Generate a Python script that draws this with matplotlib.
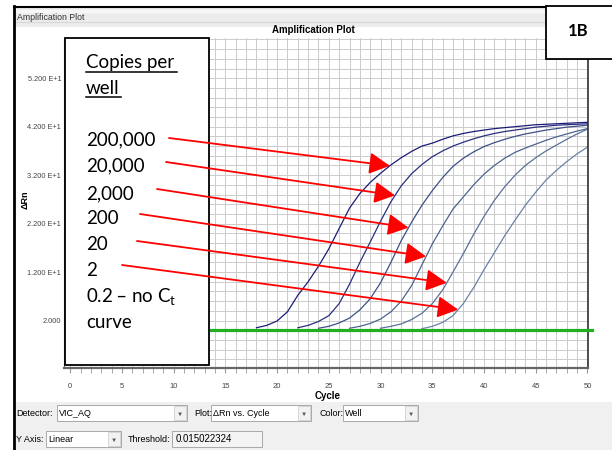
import matplotlib
matplotlib.use('Agg')
import matplotlib.pyplot as plt
from matplotlib.patches import Rectangle
from matplotlib.lines import Line2D
from matplotlib.ticker import MultipleLocator
import numpy as np

W, H = 612, 450

# copies per well and the amplification curves (delta Rn per cycle)
copies = ['200,000', '20,000', '2,000', '200', '20', '2']
start_cycle = [18, 22, 24, 27, 30, 34]
rn_200000 = [0.5, 1.0, 1.9, 3.8, 7.2, 10.0, 13.2, 16.8, 21.0, 25.2, 28.2, 30.5, 32.4,
             34.1, 35.6, 36.9, 38.0, 38.6, 39.4, 40.1, 40.6, 41.0, 41.3, 41.6, 41.8,
             42.0, 42.2, 42.4, 42.5, 42.6, 42.7, 42.8, 42.9]
rn_20000 = [0.5, 1.0, 1.8, 3.0, 5.5, 9.5, 14.0, 18.2, 22.5, 26.5, 29.8, 32.3, 34.2,
            35.8, 37.0, 38.0, 38.8, 39.5, 40.1, 40.6, 41.0, 41.3, 41.6, 41.9, 42.1,
            42.3, 42.4, 42.5, 42.6]
rn_2000 = [0.4, 0.8, 1.5, 2.5, 4.2, 6.5, 9.8, 14.0, 18.5, 22.3, 25.8, 28.8, 31.5,
           33.8, 35.5, 36.8, 37.9, 38.7, 39.4, 40.0, 40.5, 40.9, 41.3, 41.6, 41.9,
           42.1, 42.3]
rn_200 = [0.4, 0.8, 1.4, 2.3, 3.8, 6.0, 9.2, 13.5, 17.8, 21.5, 25.0, 27.5, 30.0,
          32.2, 34.0, 35.5, 36.7, 37.6, 38.4, 39.2, 39.9, 40.5, 41.1, 41.6]
rn_20 = [0.4, 0.8, 1.3, 2.2, 3.5, 5.5, 8.3, 12.0, 15.8, 19.8, 23.5, 26.8, 29.6,
         32.0, 34.0, 35.6, 37.0, 38.2, 39.4, 40.5, 41.5]
rn_2 = [0.3, 0.8, 1.6, 3.0, 5.5, 8.8, 12.5, 16.0, 19.5, 22.7, 25.8, 28.5, 31.0,
        33.0, 34.8, 36.4, 37.8]
curves = [rn_200000, rn_20000, rn_2000, rn_200, rn_20, rn_2]
curve_colors = ['#1c1c78', '#2a2f80', '#3d4f86', '#4d6390', '#5a7098', '#6a82a4']
threshold = 0.015022324

# cycle where each red arrow touches its curve
arrow_cycle = [30.9, 31.4, 32.7, 34.4, 36.4, 37.5]

yticks = [2, 12, 22, 32, 42, 52]
ytick_labels = ['2.000', '1.200 E+1', '2.200 E+1', '3.200 E+1', '4.200 E+1', '5.200 E+1']


def fx(x):
    return x / W


def fy(y):
    return 1 - y / H


def box(x0, y0, x1, y1, fc, ec='none', lw=0.8, z=1):
    fig.add_artist(Rectangle((fx(x0), fy(y1)), (x1 - x0) / W, (y1 - y0) / H,
                             transform=fig.transFigure, facecolor=fc,
                             edgecolor=ec, linewidth=lw, zorder=z))


def hline(x0, x1, y, color, lw, z=2):
    fig.add_artist(Line2D([fx(x0), fx(x1)], [fy(y), fy(y)], color=color, lw=lw,
                          transform=fig.transFigure, zorder=z))


ui = ['Liberation Sans', 'DejaVu Sans']

fig = plt.figure(figsize=(6.12, 4.5), dpi=100)
fig.patch.set_facecolor('white')

# window chrome
box(14, 6, 612, 27, '#ececec')
hline(14, 612, 11, '#f6f6f6', 2.5)
hline(14, 612, 22, '#d8d8d8', 0.8)
hline(14, 612, 6.5, 'black', 1.5, z=4)
fig.add_artist(Line2D([fx(14), fx(14)], [fy(6), fy(450)], color='black', lw=2,
                      transform=fig.transFigure, zorder=4))
fig.text(fx(17), fy(17), 'Amplification Plot', family=ui, fontsize=6.3,
         color='#333333', va='center')

# plot
ax = fig.add_axes([fx(64), fy(368), (588 - 64) / W, (368 - 38) / H])
for rn, c0, col in zip(curves, start_cycle, curve_colors):
    cyc = np.arange(c0, c0 + len(rn))
    ax.plot(cyc, rn, color=col, lw=0.9, zorder=2)
ax.plot([0, 50.4], [threshold, threshold], color='#22b022', lw=2.3, zorder=3,
        clip_on=False)

ax.set_xlim(-0.6, 50.05)
ax.set_ylim(-7.8, 60.3)
ax.xaxis.set_major_locator(MultipleLocator(5))
ax.xaxis.set_minor_locator(MultipleLocator(1))
ax.yaxis.set_minor_locator(MultipleLocator(2))
ax.set_yticks(yticks)
ax.set_yticklabels(ytick_labels)
ax.grid(which='both', color='#cccccc', lw=0.7)
ax.tick_params(axis='x', which='both', direction='out', length=3.5, color='#999999',
               labelsize=5.5, labelcolor='#444444', pad=7)
ax.tick_params(axis='y', which='both', length=0, labelsize=5.3,
               labelcolor='#444444', pad=2)
for lab in ax.get_xticklabels() + ax.get_yticklabels():
    lab.set_family(ui)
ax.spines['top'].set_visible(False)
ax.spines['left'].set_color('#777777')
ax.spines['left'].set_linewidth(0.8)
ax.spines['right'].set_color('#333333')
ax.spines['right'].set_linewidth(1.2)
ax.spines['bottom'].set_color('#666666')
ax.spines['bottom'].set_linewidth(1.6)

fig.text(fx(313), fy(33), 'Amplification Plot', family=ui, fontsize=7,
         fontweight='bold', ha='center', va='baseline')
fig.text(fx(328), fy(396), 'Cycle', family=ui, fontsize=7, fontweight='bold',
         ha='center', va='center')
fig.text(fx(25), fy(200), 'ΔRn', family=ui, fontsize=6.5, fontweight='bold',
         rotation=90, ha='center', va='center')

# legend box with labels
ax.add_patch(Rectangle((fx(65), fy(365)), (209 - 65) / W, (365 - 37.5) / H,
                       transform=fig.transFigure, facecolor='white',
                       edgecolor='black', lw=1.3, zorder=5, clip_on=False))
lab_font = ['Lato', 'DejaVu Sans']
fig.text(fx(86), fy(68.3), 'Copies per', family=lab_font, fontsize=13.5, va='baseline')
hline(86, 177, 72, 'black', 1.1, z=5)
fig.text(fx(86), fy(94.3), 'well', family=lab_font, fontsize=13.5, va='baseline')
hline(86, 121, 97, 'black', 1.1, z=5)
label_base = [145.3, 171.7, 199, 224, 250, 276]
for lab, yb in zip(copies, label_base):
    fig.text(fx(86), fy(yb), lab, family=lab_font, fontsize=13.5, va='baseline')
fig.text(fx(86), fy(302.7), '0.2 – no C$_\\mathregular{t}$', family=lab_font,
         fontsize=13.5, va='baseline')
fig.text(fx(86), fy(328.3), 'curve', family=lab_font, fontsize=13.5, va='baseline')

# red arrows from the labels to the curves
tails = [(169, 138), (166, 162), (157, 189), (140, 214), (137, 241), (122, 265)]
for rn, c0, ac, (tx, ty) in zip(curves, start_cycle, arrow_cycle, tails):
    cyc = np.arange(c0, c0 + len(rn))
    ax.annotate('', xy=(ac, np.interp(ac, cyc, rn)), xycoords='data',
                xytext=(fx(tx), fy(ty)), textcoords='figure fraction',
                arrowprops=dict(arrowstyle='-|>,head_length=1.05,head_width=0.55',
                                color='#ff0000', lw=1.3, mutation_scale=12,
                                shrinkA=0, shrinkB=0),
                annotation_clip=False, zorder=6)

# figure tag
box(546, 6, 613, 59, 'white', ec='black', lw=1.3, z=5)
fig.text(fx(578), fy(31), '1B', family=lab_font, fontsize=12, fontweight='bold',
         ha='center', va='center', zorder=6)

# bottom control panel
box(15, 402, 612, 450, '#f0f0f0')


def combo(x0, x1, yc, text):
    box(x0, yc - 8, x1, yc + 8, 'white', ec='#a8a8a8', lw=0.7, z=2)
    box(x1 - 13, yc - 7, x1 - 1, yc + 7, '#f2f2f2', ec='#c8c8c8', lw=0.5, z=3)
    fig.text(fx(x1 - 7), fy(yc + 1), '▼', family=ui, fontsize=4.5, color='#555555',
             ha='center', va='center', zorder=4)
    fig.text(fx(x0 + 2), fy(yc), text, family=ui, fontsize=6.5, va='center', zorder=4)


row1, row2 = 413, 439
fig.text(fx(16), fy(row1), 'Detector:', family=ui, fontsize=6.5, va='center')
combo(57, 187, row1, 'VIC_AQ')
fig.text(fx(194), fy(row1), 'Plot:', family=ui, fontsize=6.5, va='center')
combo(211, 311, row1, 'ΔRn vs. Cycle')
fig.text(fx(320), fy(row1), 'Color:', family=ui, fontsize=6.5, va='center')
combo(343, 418, row1, 'Well')
fig.text(fx(16), fy(row2), 'Y Axis:', family=ui, fontsize=6.5, va='center')
combo(46, 121, row2, 'Linear')
fig.text(fx(128), fy(row2), 'Threshold:', family=ui, fontsize=6.5, va='center')
box(172, row2 - 8, 262, row2 + 8, '#f4f4f4', ec='#a8a8a8', lw=0.7, z=2)
fig.text(fx(176), fy(row2), f'{threshold:.9f}', family=ui, fontsize=7, va='center',
         zorder=4)

fig.savefig('out.png', dpi=100)
